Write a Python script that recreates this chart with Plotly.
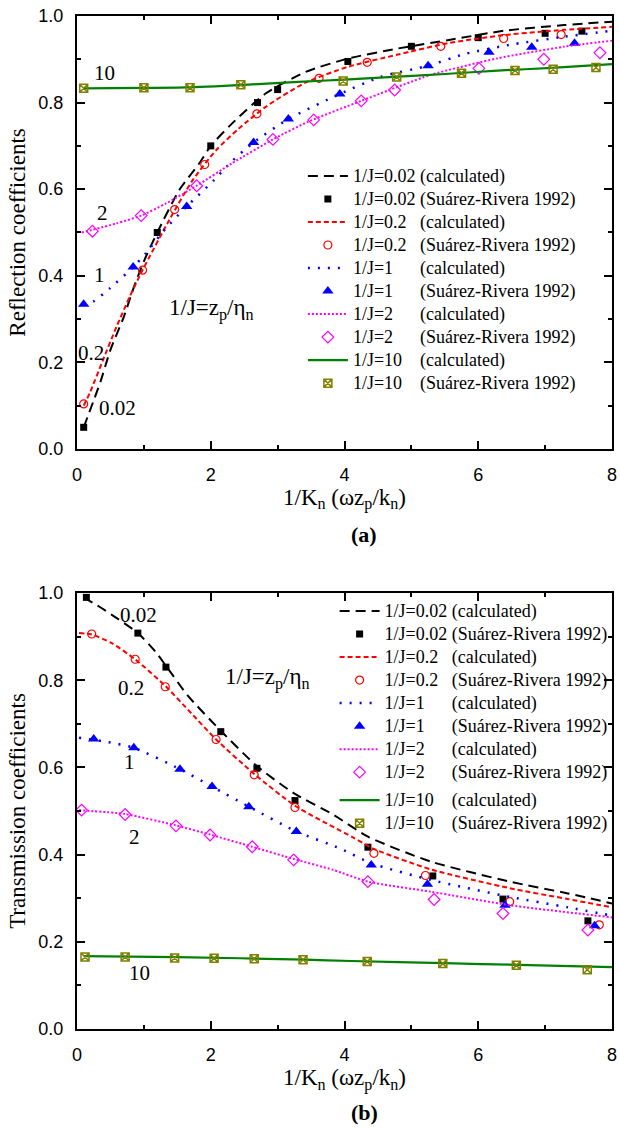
import plotly.graph_objects as go

# ---------------- (a) Reflection coefficients ----------------
# Suárez-Rivera (1992) measurements
ref_x_002 = [0.10, 1.20, 2.00, 2.70, 3.00, 4.05, 5.00, 6.00, 7.00, 7.55]
ref_y_002 = [0.050, 0.500, 0.700, 0.800, 0.830, 0.895, 0.930, 0.950, 0.960, 0.965]
ref_x_02 = [0.10, 0.98, 1.46, 1.91, 2.69, 3.62, 4.34, 5.44, 6.38, 7.24]
ref_y_02 = [0.104, 0.413, 0.553, 0.657, 0.774, 0.856, 0.893, 0.930, 0.948, 0.957]
ref_x_1 = [0.10, 0.84, 1.64, 2.64, 3.16, 3.93, 5.25, 6.16, 6.80, 7.44]
ref_y_1 = [0.334, 0.420, 0.560, 0.708, 0.762, 0.820, 0.885, 0.916, 0.928, 0.937]
ref_x_2 = [0.23, 0.96, 1.79, 2.93, 3.54, 4.25, 4.75, 6.01, 6.98, 7.82]
ref_y_2 = [0.503, 0.539, 0.608, 0.715, 0.760, 0.804, 0.829, 0.879, 0.900, 0.915]
ref_x_10 = [0.10, 1.00, 1.69, 2.45, 3.98, 4.78, 5.75, 6.55, 7.12, 7.76]
ref_y_10 = [0.833, 0.834, 0.834, 0.841, 0.850, 0.859, 0.868, 0.874, 0.877, 0.881]

# calculated curves
rc_x_002 = [0.10, 0.35, 0.50, 0.70, 0.86, 1.03, 1.20, 1.53, 1.83, 2.00, 2.32, 2.82, 3.42, 4.06, 4.80, 5.54, 6.39, 7.28, 8.00]
rc_y_002 = [0.050, 0.155, 0.229, 0.305, 0.378, 0.444, 0.500, 0.598, 0.660, 0.700, 0.752, 0.821, 0.871, 0.902, 0.925, 0.944, 0.966, 0.979, 0.987]
rc_x_02 = [0.10, 0.19, 0.39, 0.59, 0.79, 0.98, 1.38, 1.73, 2.08, 2.42, 2.82, 3.40, 4.06, 4.80, 5.54, 6.39, 7.28, 8.00]
rc_y_02 = [0.100, 0.129, 0.206, 0.282, 0.352, 0.413, 0.529, 0.621, 0.690, 0.740, 0.790, 0.845, 0.883, 0.911, 0.937, 0.956, 0.968, 0.975]
rc_x_1 = [0.10, 0.24, 0.49, 0.84, 1.03, 1.33, 1.64, 2.05, 2.32, 2.64, 3.16, 3.93, 4.55, 5.25, 5.79, 6.53, 7.28, 8.00]
rc_y_1 = [0.334, 0.340, 0.371, 0.420, 0.452, 0.510, 0.560, 0.621, 0.665, 0.708, 0.762, 0.820, 0.860, 0.885, 0.912, 0.935, 0.952, 0.966]
rc_x_2 = [0.07, 0.59, 0.96, 1.33, 1.79, 2.32, 2.93, 3.46, 4.25, 5.29, 6.28, 7.28, 8.00]
rc_y_2 = [0.500, 0.521, 0.539, 0.567, 0.608, 0.660, 0.715, 0.756, 0.804, 0.864, 0.902, 0.929, 0.943]
rc_x_10 = [0.10, 1.00, 1.63, 2.50, 3.31, 4.00, 4.80, 5.50, 6.29, 7.10, 8.00]
rc_y_10 = [0.833, 0.834, 0.835, 0.841, 0.848, 0.853, 0.860, 0.866, 0.874, 0.880, 0.889]

# ---------------- (b) Transmission coefficients ----------------
tr_x_002 = [0.14, 0.91, 1.33, 2.15, 2.69, 3.26, 4.35, 5.32, 6.37, 7.64]
tr_y_002 = [0.990, 0.908, 0.830, 0.682, 0.598, 0.524, 0.417, 0.351, 0.298, 0.248]
tr_x_02 = [0.22, 0.87, 1.32, 2.08, 2.65, 3.26, 4.44, 5.21, 6.47, 7.81]
tr_y_02 = [0.906, 0.848, 0.785, 0.664, 0.583, 0.508, 0.403, 0.352, 0.292, 0.239]
tr_x_1 = [0.25, 0.85, 1.54, 2.02, 2.57, 3.28, 4.40, 5.24, 6.40, 7.74]
tr_y_1 = [0.665, 0.645, 0.596, 0.556, 0.510, 0.453, 0.376, 0.332, 0.284, 0.237]
tr_x_2 = [0.07, 0.72, 1.48, 1.99, 2.62, 3.24, 4.35, 5.34, 6.37, 7.64]
tr_y_2 = [0.502, 0.492, 0.466, 0.445, 0.418, 0.388, 0.338, 0.297, 0.265, 0.227]
tr_x_10 = [0.12, 0.72, 1.46, 2.05, 2.65, 3.38, 4.34, 5.47, 6.57, 7.63]
tr_y_10 = [0.165, 0.165, 0.163, 0.162, 0.161, 0.159, 0.155, 0.150, 0.146, 0.136]

tc_x_002 = [0.10, 0.33, 0.52, 0.91, 1.17, 1.33, 1.66, 2.15, 2.69, 3.24, 3.84, 4.35, 5.29, 6.47, 7.34, 8.00]
tc_y_002 = [0.990, 0.969, 0.950, 0.908, 0.866, 0.833, 0.764, 0.684, 0.603, 0.541, 0.491, 0.441, 0.384, 0.338, 0.311, 0.288]
tc_x_02 = [0.03, 0.22, 0.52, 0.87, 1.32, 1.71, 2.08, 2.65, 3.26, 4.12, 4.44, 5.29, 6.47, 7.34, 8.00]
tc_y_02 = [0.908, 0.905, 0.885, 0.848, 0.787, 0.724, 0.664, 0.585, 0.512, 0.440, 0.413, 0.366, 0.323, 0.298, 0.279]
tc_x_1 = [0.03, 0.43, 0.85, 1.54, 2.02, 2.57, 3.28, 3.95, 4.40, 5.29, 6.47, 7.34, 8.00]
tc_y_1 = [0.668, 0.659, 0.645, 0.596, 0.556, 0.510, 0.453, 0.413, 0.380, 0.342, 0.303, 0.279, 0.260]
tc_x_2 = [0.03, 0.72, 1.48, 1.99, 2.62, 3.24, 3.83, 4.35, 5.29, 6.47, 8.00]
tc_y_2 = [0.502, 0.493, 0.467, 0.446, 0.418, 0.390, 0.365, 0.338, 0.315, 0.284, 0.256]
tc_x_10 = [0.10, 1.50, 3.40, 4.10, 5.50, 6.60, 8.00]
tc_y_10 = [0.167, 0.165, 0.159, 0.156, 0.151, 0.147, 0.142]

# legend labels (first column padded so the second column lines up)
NB = "\u00a0"
lab_j = ["1/J=0.02 ", "1/J=0.2" + NB * 3, "1/J=1" + NB * 6, "1/J=2" + NB * 6, "1/J=10" + NB * 4]
CALC = "(calculated)"
DATA = "(Suárez-Rivera 1992)"

# curve / marker styles per 1/J value
line_styles = [
    dict(color="black", width=2, dash="10px,6px"),
    dict(color="#ff0000", width=2, dash="5px,3px"),
    dict(color="#0000ff", width=2.5, dash="2px,8px"),
    dict(color="#ff00ff", width=2, dash="2px,2px"),
    dict(color="#008000", width=2.2, dash="solid"),
]
marker_styles = [
    dict(symbol="square", size=7, color="black"),
    dict(symbol="circle-open", size=8, color="#ff0000", line=dict(width=1.2)),
    dict(symbol="triangle-up", size=10, color="#0000ff"),
    dict(symbol="diamond-open", size=9, color="#ff00ff", line=dict(width=1.2)),
    dict(symbol="square-x-open", size=8, color="#808000", line=dict(width=1.5)),
]

top_calc = [(rc_x_002, rc_y_002), (rc_x_02, rc_y_02), (rc_x_1, rc_y_1), (rc_x_2, rc_y_2), (rc_x_10, rc_y_10)]
top_data = [(ref_x_002, ref_y_002), (ref_x_02, ref_y_02), (ref_x_1, ref_y_1), (ref_x_2, ref_y_2), (ref_x_10, ref_y_10)]
bot_calc = [(tc_x_002, tc_y_002), (tc_x_02, tc_y_02), (tc_x_1, tc_y_1), (tc_x_2, tc_y_2), (tc_x_10, tc_y_10)]
bot_data = [(tr_x_002, tr_y_002), (tr_x_02, tr_y_02), (tr_x_1, tr_y_1), (tr_x_2, tr_y_2), (tr_x_10, tr_y_10)]


def span(txt):
    return '<span style="font-size:18px">' + txt + "</span>"


fig = go.Figure()

for panel, (calc, data, xa, ya, lg) in enumerate([
    (top_calc, top_data, "x", "y", "legend"),
    (bot_calc, bot_data, "x2", "y2", "legend2"),
]):
    for i in range(5):
        group = "g%d_%s" % (panel, "last" if (panel == 1 and i == 4) else "main")
        fig.add_trace(go.Scatter(
            x=calc[i][0], y=calc[i][1], mode="lines", line=dict(shape="spline", smoothing=0.6, **line_styles[i]),
            name=span(lab_j[i] + CALC), xaxis=xa, yaxis=ya, legend=lg, legendgroup=group,
        ))
        fig.add_trace(go.Scatter(
            x=data[i][0], y=data[i][1], mode="markers", marker=marker_styles[i],
            name=span(lab_j[i] + DATA), xaxis=xa, yaxis=ya, legend=lg, legendgroup=group,
        ))

SERIF = "Liberation Serif"
SANS = "Liberation Sans"
title_font = dict(family=SERIF, size=23, color="black")

axis_common = dict(
    showline=True, linewidth=2, linecolor="black", mirror="ticks",
    ticks="inside", ticklen=8, tickwidth=1.5, tickcolor="black",
    showgrid=False, zeroline=False,
    tickfont=dict(family=SANS, size=18, color="black"),
    ticklabelstandoff=8, ticklabeloverflow="allow",
)
xaxis_common = dict(axis_common, range=[0, 8], tick0=0, dtick=2,
                    minor=dict(ticks="inside", ticklen=4, tickwidth=1.5, tickcolor="black", dtick=1, tick0=0),
                    title=dict(text="1/K<sub>n</sub> (ωz<sub>p</sub>/k<sub>n</sub>)", font=title_font, standoff=5))
yaxis_common = dict(axis_common, range=[0, 1], tick0=0, dtick=0.2, tickformat=".1f",
                    minor=dict(ticks="inside", ticklen=4, tickwidth=1.5, tickcolor="black", dtick=0.1, tick0=0))

fig.update_layout(
    width=620, height=1128,
    margin=dict(l=77, r=3, t=16, b=99),
    paper_bgcolor="white", plot_bgcolor="white",
    xaxis=dict(xaxis_common, domain=[0, 1], anchor="y"),
    yaxis=dict(yaxis_common, domain=[0.5726, 1], anchor="x",
               title=dict(text="Reflection coefficients", font=title_font, standoff=6)),
    xaxis2=dict(xaxis_common, domain=[0, 1], anchor="y2"),
    yaxis2=dict(yaxis_common, domain=[0, 0.4304], anchor="x2",
                title=dict(text="Transmission coefficients", font=title_font, standoff=6)),
    legend=dict(x=0.4222, y=0.8584, xanchor="left", yanchor="top", bgcolor="rgba(0,0,0,0)",
                font=dict(family=SERIF, size=15.4, color="black"), itemwidth=40,
                traceorder="normal", tracegroupgap=0),
    legend2=dict(x=0.4815, y=0.4289, xanchor="left", yanchor="top", bgcolor="rgba(0,0,0,0)",
                 font=dict(family=SERIF, size=15.4, color="black"), itemwidth=40,
                 traceorder="grouped", tracegroupgap=5),
    showlegend=True,
)

# curve labels
ann_font = dict(family=SERIF, size=21, color="black")
top_labels = [("10", 0.41, 0.868), ("2", 0.385, 0.545), ("1", 0.34, 0.402), ("0.2", 0.21, 0.222), ("0.02", 0.61, 0.095)]
bot_labels = [("0.02", 0.92, 0.95), ("0.2", 0.81, 0.782), ("1", 0.79, 0.612), ("2", 0.86, 0.44), ("10", 0.93, 0.128)]
for txt, xv, yv in top_labels:
    fig.add_annotation(x=xv, y=yv, xref="x", yref="y", text=txt, showarrow=False, font=ann_font)
for txt, xv, yv in bot_labels:
    fig.add_annotation(x=xv, y=yv, xref="x2", yref="y2", text=txt, showarrow=False, font=ann_font)

jdef = "1/J=z<sub>p</sub>/η<sub>n</sub>"
jdef_font = dict(family=SERIF, size=23, color="black")
fig.add_annotation(x=2.01, y=0.322, xref="x", yref="y", text=jdef, showarrow=False, font=jdef_font)
fig.add_annotation(x=2.85, y=0.805, xref="x2", yref="y2", text=jdef, showarrow=False, font=jdef_font)

# panel tags
tag_font = dict(family=SERIF, size=22, color="black")
fig.add_annotation(x=0.537, y=0.4877, xref="paper", yref="paper", text="<b>(a)</b>", showarrow=False,
                   font=tag_font, xanchor="center", yanchor="middle")
fig.add_annotation(x=0.537, y=-0.0829, xref="paper", yref="paper", text="<b>(b)</b>", showarrow=False,
                   font=tag_font, xanchor="center", yanchor="middle")

fig.write_html("out.html")
